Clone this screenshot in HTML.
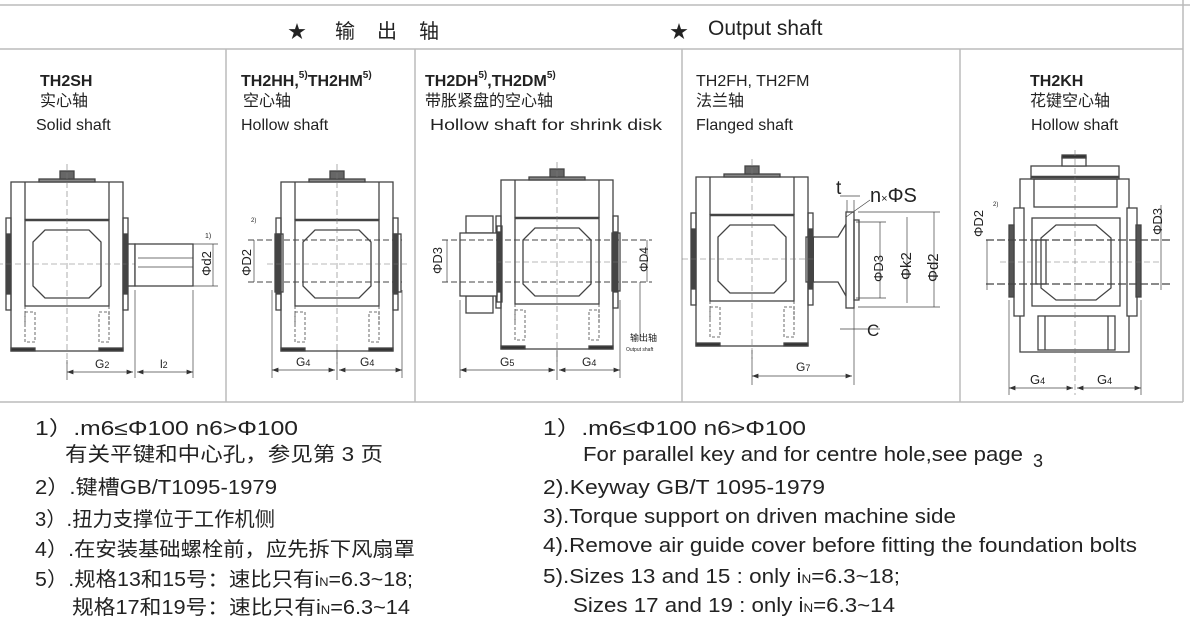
<!DOCTYPE html>
<html><head><meta charset="utf-8"><style>
html,body{margin:0;padding:0;background:#fff;}
svg{display:block;}
text{font-family:"Liberation Sans","Noto Sans CJK SC",sans-serif;fill:#222;}
</style></head><body>
<svg width="1190" height="628" viewBox="0 0 1190 628" xmlns="http://www.w3.org/2000/svg">
<defs>
<g id="gb" fill="none" stroke="#444" stroke-width="1.3">
  <rect x="-56" y="-82" width="112" height="169" fill="#fff"/>
  <line x1="-42" y1="-82" x2="-42" y2="-44"/><line x1="42" y1="-82" x2="42" y2="-44"/>
  <rect x="-28" y="-85" width="56" height="3" fill="#888"/>
  <rect x="-7" y="-93" width="14" height="8" fill="#666"/>
  <line x1="-42" y1="-44" x2="42" y2="-44" stroke-width="2.5"/>
  <rect x="-42" y="-44" width="84" height="86"/>
  <polygon points="-22,-34 22,-34 34,-22 34,22 22,34 -22,34 -34,22 -34,-22"/>
  <rect x="-61" y="-46" width="5" height="92"/><rect x="-60" y="-30" width="3" height="60" fill="#444"/>
  <rect x="56" y="-46" width="5" height="92"/><rect x="57" y="-30" width="3" height="60" fill="#444"/>
  <path d="M-42 42 V60 M42 42 V60" stroke-dasharray="3 2" stroke-width="0.8"/>
  <rect x="-42" y="48" width="10" height="30" stroke-dasharray="3 2" stroke-width="0.8"/>
  <rect x="32" y="48" width="10" height="30" stroke-dasharray="3 2" stroke-width="0.8"/>
  <rect x="-56" y="84" width="24" height="3" fill="#333"/><rect x="32" y="84" width="24" height="3" fill="#333"/>
  <path d="M0 -100 V100 M-70 0 H70" stroke-dasharray="6 3" stroke-width="0.6" stroke="#777"/>
</g>
<marker id="a" viewBox="0 0 8 6" refX="8" refY="3" markerWidth="8" markerHeight="6" orient="auto-start-reverse"><path d="M0 0 L8 3 L0 6z" fill="#333"/></marker>
</defs>
<g stroke="#bbb" stroke-width="1.5" fill="none">
  <line x1="0" y1="5" x2="1190" y2="5"/>
  <line x1="0" y1="49" x2="1183" y2="49"/>
  <line x1="0" y1="402" x2="1183" y2="402"/>
  <line x1="1183" y1="0" x2="1183" y2="402"/>
  <line x1="226" y1="49" x2="226" y2="402"/>
  <line x1="415" y1="49" x2="415" y2="402"/>
  <line x1="682" y1="49" x2="682" y2="402"/>
  <line x1="960" y1="49" x2="960" y2="402"/>
</g>
<text x="288" y="38" font-size="18">★</text>
<text x="335" y="38" font-size="20" letter-spacing="22">输出轴</text>
<text x="670" y="38" font-size="18">★</text>
<text x="708" y="35" font-size="21">Output shaft</text>

<g font-size="16">
<text x="40" y="86" font-weight="bold">TH2SH</text><text x="40" y="106">实心轴</text><text x="36" y="130">Solid shaft</text>
<text x="241" y="86" font-weight="bold">TH2HH,<tspan font-size="10" dy="-8">5)</tspan><tspan dy="8">TH2HM</tspan><tspan font-size="10" dy="-8">5)</tspan></text><text x="243" y="106">空心轴</text><text x="241" y="130">Hollow shaft</text>
<text x="425" y="86" font-weight="bold">TH2DH<tspan font-size="10" dy="-8">5)</tspan><tspan dy="8">,TH2DM</tspan><tspan font-size="10" dy="-8">5)</tspan></text><text x="425" y="106">带胀紧盘的空心轴</text><text x="430" y="130" textLength="232" lengthAdjust="spacingAndGlyphs">Hollow shaft for shrink disk</text>
<text x="696" y="86">TH2FH, TH2FM</text><text x="696" y="106">法兰轴</text><text x="696" y="130">Flanged shaft</text>
<text x="1030" y="86" font-weight="bold">TH2KH</text><text x="1030" y="106">花键空心轴</text><text x="1031" y="130">Hollow shaft</text>
</g>

<!-- Panel 1 -->
<use href="#gb" transform="translate(67,264)"/>
<g fill="none" stroke="#444" stroke-width="1.3">
<rect x="127" y="244" width="8" height="42"/>
<rect x="135" y="244" width="58" height="42" fill="#fff"/>
<line x1="138" y1="258" x2="193" y2="258" stroke-width="0.8"/><line x1="138" y1="267" x2="193" y2="267" stroke-width="0.8"/>
<path d="M193 244 H218 M193 286 H218 M213 244 V286" stroke-width="0.7"/>
<path d="M67 360 V380 M135 290 V378 M193 290 V378" stroke-width="0.7"/>
<line x1="67" y1="372" x2="133" y2="372" stroke-width="0.8" marker-start="url(#a)" marker-end="url(#a)"/>
<line x1="137" y1="372" x2="193" y2="372" stroke-width="0.8" marker-start="url(#a)" marker-end="url(#a)"/>
</g>
<text x="95" y="368" font-size="12">G<tspan font-size="9">2</tspan></text>
<text x="160" y="368" font-size="12">l<tspan font-size="9">2</tspan></text>
<text transform="translate(211,276) rotate(-90)" font-size="13">Φd2</text>
<text x="205" y="238" font-size="7">1)</text>

<!-- Panel 2 -->
<use href="#gb" transform="translate(337,264)"/>
<g fill="none" stroke="#444" stroke-width="1.3">
<rect x="275" y="234" width="8" height="58"/><rect x="393" y="234" width="8" height="58"/>
<path d="M248 240 H402 M248 282 H402" stroke-dasharray="6 3" stroke-width="1"/>
<path d="M254 240 V282 M272 290 V378 M402 290 V378 M337 350 V380" stroke-width="0.7"/>
<line x1="272" y1="370" x2="335" y2="370" stroke-width="0.8" marker-start="url(#a)" marker-end="url(#a)"/>
<line x1="339" y1="370" x2="402" y2="370" stroke-width="0.8" marker-start="url(#a)" marker-end="url(#a)"/>
</g>
<text transform="translate(251,276) rotate(-90)" font-size="13">ΦD2</text>
<text x="251" y="222" font-size="6">2)</text>
<text x="296" y="366" font-size="12">G<tspan font-size="9">4</tspan></text>
<text x="360" y="366" font-size="12">G<tspan font-size="9">4</tspan></text>

<!-- Panel 3 -->
<use href="#gb" transform="translate(557,262)"/>
<g fill="none" stroke="#444" stroke-width="1.3">
<rect x="466" y="216" width="27" height="17" fill="#fff"/><rect x="466" y="296" width="27" height="17" fill="#fff"/>
<rect x="460" y="233" width="37" height="63" fill="#fff"/>
<rect x="497" y="226" width="5" height="76"/>
<rect x="612" y="233" width="8" height="58"/>
<path d="M442 240 H652 M442 282 H652" stroke-dasharray="6 3" stroke-width="1"/>
<path d="M447 240 V282 M647 240 V282 M640 282 V340 M460 300 V378 M620 300 V378 M557 350 V380" stroke-width="0.7"/>
<line x1="460" y1="370" x2="555" y2="370" stroke-width="0.8" marker-start="url(#a)" marker-end="url(#a)"/>
<line x1="559" y1="370" x2="620" y2="370" stroke-width="0.8" marker-start="url(#a)" marker-end="url(#a)"/>
</g>
<text transform="translate(442,274) rotate(-90)" font-size="13">ΦD3</text>
<text transform="translate(648,272) rotate(-90)" font-size="12">ΦD4</text>
<text x="630" y="341" font-size="9">输出轴</text>
<text x="626" y="351" font-size="5">Output shaft</text>
<text x="500" y="366" font-size="12">G<tspan font-size="9">5</tspan></text>
<text x="582" y="366" font-size="12">G<tspan font-size="9">4</tspan></text>

<!-- Panel 4 -->
<use href="#gb" transform="translate(752,259)"/>
<g fill="none" stroke="#444" stroke-width="1.3">
<rect x="806" y="237" width="8" height="45"/>
<path d="M814 237 H838 L846 224 V296 L838 282 H814" fill="#fff"/>
<rect x="846" y="212" width="8" height="96" fill="#fff"/>
<rect x="854" y="220" width="5" height="80"/>
<path d="M856 222 H886 M856 298 H886 M858 212 H940 M858 307 H940 M880 222 V298 M907 217 V303 M934 212 V307" stroke-width="0.7"/>
<path d="M840 196 H860 M840 329 H880 M847 200 V212 M854 200 V212 M752 350 V385 M854 307 V385 M846 217 L870 200" stroke-width="0.7"/>
<line x1="752" y1="376" x2="852" y2="376" stroke-width="0.8" marker-start="url(#a)" marker-end="url(#a)"/>
</g>
<text x="836" y="194" font-size="19">t</text>
<text x="870" y="202" font-size="20">n<tspan font-size="11">×</tspan>ΦS</text>
<text x="867" y="336" font-size="17">C</text>
<text transform="translate(883,282) rotate(-90)" font-size="13">ΦD3</text>
<text transform="translate(911,280) rotate(-90)" font-size="15">Φk2</text>
<text transform="translate(938,282) rotate(-90)" font-size="15">Φd2</text>
<text x="796" y="371" font-size="12">G<tspan font-size="9">7</tspan></text>

<!-- Panel 5 -->
<g fill="none" stroke="#444" stroke-width="1.3">
<rect x="1020" y="179" width="109" height="173" fill="#fff"/>
<rect x="1031" y="166" width="88" height="13" fill="#fff"/><line x1="1031" y1="177" x2="1119" y2="177" stroke-width="2.5"/>
<rect x="1062" y="157" width="24" height="9" fill="#fff"/><rect x="1062" y="155" width="24" height="3" fill="#333"/>
<rect x="1034" y="179" width="83" height="28"/>
<rect x="1032" y="218" width="88" height="88"/>
<polygon points="1056,225 1096,225 1111,238 1111,288 1096,300 1056,300 1041,288 1041,238"/>
<rect x="1038" y="316" width="77" height="34"/><path d="M1045 316 V350 M1108 316 V350"/>
<rect x="1014" y="208" width="10" height="108" fill="#fff"/><rect x="1009" y="225" width="5" height="72" fill="#555"/>
<rect x="1127" y="208" width="10" height="108" fill="#fff"/><rect x="1136" y="225" width="5" height="72" fill="#555"/>
<rect x="1036" y="240" width="10" height="44"/>
<path d="M986 240 H1170 M986 284 H1170" stroke-dasharray="8 3" stroke-width="1.3"/>
<path d="M1075 150 V395 M1000 262 H1160" stroke-dasharray="6 3" stroke-width="0.6" stroke="#777"/>
<path d="M987 240 V290 M1161 205 V290 M1009 300 V395 M1141 300 V395" stroke-width="0.7"/>
<line x1="1009" y1="388" x2="1073" y2="388" stroke-width="0.8" marker-start="url(#a)" marker-end="url(#a)"/>
<line x1="1077" y1="388" x2="1141" y2="388" stroke-width="0.8" marker-start="url(#a)" marker-end="url(#a)"/>
</g>
<text transform="translate(983,237) rotate(-90)" font-size="13">ΦD2</text>
<text x="993" y="206" font-size="6">2)</text>
<text transform="translate(1162,235) rotate(-90)" font-size="13">ΦD3</text>
<text x="1030" y="384" font-size="13">G<tspan font-size="9">4</tspan></text>
<text x="1097" y="384" font-size="13">G<tspan font-size="9">4</tspan></text>

<!-- Notes -->
<g font-size="20">
<text x="35" y="435" textLength="263" lengthAdjust="spacingAndGlyphs">1）.m6≤Φ100  n6&gt;Φ100</text>
<text x="65" y="461" textLength="318" lengthAdjust="spacingAndGlyphs">有关平键和中心孔，参见第 3 页</text>
<text x="35" y="494" textLength="242" lengthAdjust="spacingAndGlyphs">2）.键槽GB/T1095-1979</text>
<text x="35" y="526" textLength="240" lengthAdjust="spacingAndGlyphs">3）.扭力支撑位于工作机侧</text>
<text x="35" y="556" textLength="380" lengthAdjust="spacingAndGlyphs">4）.在安装基础螺栓前，应先拆下风扇罩</text>
<text x="35" y="586" textLength="378" lengthAdjust="spacingAndGlyphs">5）.规格13和15号：速比只有i<tspan font-size="12">N</tspan>=6.3~18;</text>
<text x="72" y="614" textLength="338" lengthAdjust="spacingAndGlyphs">规格17和19号：速比只有i<tspan font-size="12">N</tspan>=6.3~14</text>

<text x="543" y="435" textLength="263" lengthAdjust="spacingAndGlyphs">1）.m6≤Φ100  n6&gt;Φ100</text>
<text x="583" y="461" textLength="440" lengthAdjust="spacingAndGlyphs">For parallel key and for centre hole,see page</text>
<text x="1033" y="467" font-size="18">3</text>
<text x="543" y="494" textLength="282" lengthAdjust="spacingAndGlyphs">2).Keyway GB/T 1095-1979</text>
<text x="543" y="523" textLength="413" lengthAdjust="spacingAndGlyphs">3).Torque support on driven machine side</text>
<text x="543" y="552" textLength="594" lengthAdjust="spacingAndGlyphs">4).Remove air guide cover before fitting the foundation bolts</text>
<text x="543" y="583" textLength="357" lengthAdjust="spacingAndGlyphs">5).Sizes 13 and 15 : only i<tspan font-size="12">N</tspan>=6.3~18;</text>
<text x="573" y="612" textLength="322" lengthAdjust="spacingAndGlyphs">Sizes 17 and 19 : only i<tspan font-size="12">N</tspan>=6.3~14</text>
</g>
</svg>
</body></html>
